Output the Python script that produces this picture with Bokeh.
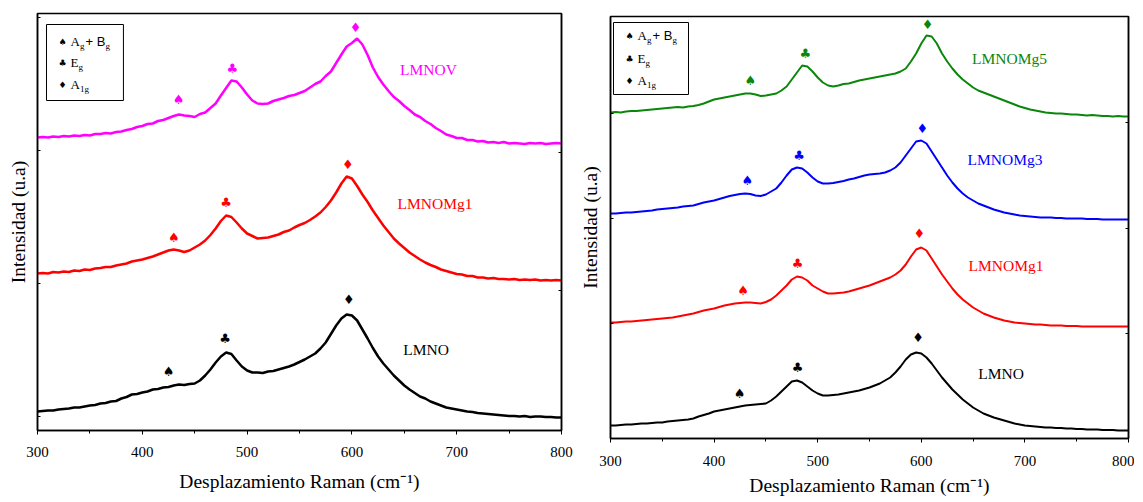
from jinja2 import Template
from bokeh.plotting import figure
from bokeh.models import Range1d, LinearAxis, FixedTicker, SingleIntervalTicker
from bokeh.embed import file_html
from bokeh.resources import INLINE
from bokeh.core.properties import value

# ---------------- data (intensity in arbitrary units, stacked as drawn) ----------------
RAMAN_SHIFT = list(range(300, 801, 5))  # cm^-1

# left panel
L_LMNOV = [293, 293.5, 293, 294, 293.5, 294.5, 294, 295, 294.5, 295.5,
           295, 296.5, 296.5, 297.5, 297, 298.5, 299, 300.5, 301.5, 303.5,
           304.5, 306.5, 307, 309.5, 310.5, 312.5, 314.5, 316, 315, 314.5,
           313.5, 316.5, 318, 322.5, 327, 335, 342.5, 350, 349, 343,
           336, 330, 327, 326.5, 327, 329.5, 331, 332.5, 334.5, 335.5,
           337.5, 339.5, 343, 346.5, 349, 354.5, 359, 367.5, 376, 384,
           387.5, 392, 386, 375.5, 363, 353.5, 346, 339.5, 333.5, 329.5,
           324.5, 320.5, 316, 313.5, 309.5, 306.5, 302.5, 299.5, 296, 294.5,
           292.5, 292.5, 290.5, 290.5, 289, 289.5, 288, 288.5, 287.5, 288.5,
           287, 287.5, 287, 286.5, 287.5, 287, 287.5, 286.5, 287, 287.5,
           287]
L_LMNOMG1 = [157, 157.5, 157, 158.5, 158, 159, 158.5, 160, 159.5, 161,
             160.5, 162, 162.5, 163.5, 163.5, 165, 166, 167, 169, 170,
             171, 172.5, 174, 176, 178, 180, 181, 180, 178.5, 180,
             183, 186, 190, 195.5, 202, 209.5, 215, 213.5, 208, 202,
             197, 194.5, 192, 192.5, 193, 194.5, 196, 198.5, 200, 203,
             205.5, 207.5, 210.5, 214, 218, 223.5, 230, 238, 247, 254,
             252, 244.5, 236, 228.5, 220, 212.5, 205, 198.5, 192, 187,
             182.5, 178, 174.5, 171, 168, 165.5, 163.5, 161, 159.5, 158,
             156.5, 156, 154.5, 154.5, 153, 153, 152, 152.5, 151.5, 151.5,
             151, 151.5, 150.5, 151, 150.5, 151, 150, 150.5, 150, 150.5,
             150]
L_LMNO = [19, 19.5, 20, 20, 21, 21.5, 22, 23, 23, 24,
          25, 25.5, 27, 27.5, 29, 29.5, 32, 33.5, 36, 36.5,
          38, 39, 41, 41.5, 43, 43.5, 45, 46, 45.5, 46.5,
          47, 50, 55, 61, 68, 74, 78, 76.5, 70, 64,
          60, 58, 58, 57.5, 59, 59.5, 61, 62.5, 64, 66,
          68.5, 71, 74, 77, 82, 88, 96.5, 105, 112, 116,
          115, 110, 101, 92, 82.5, 74, 67, 61, 55, 50,
          45, 41, 37.5, 34, 32, 29, 27, 25, 23, 22,
          21, 20, 19, 18.5, 17.5, 17, 16.5, 16, 15.5, 15,
          14.5, 14.5, 14, 14.5, 13.5, 14, 14, 13.5, 13.5, 13,
          13]

# right panel
R_LMNOMG5 = [326, 326.5, 326, 327, 327.5, 327.5, 328, 328.5, 329, 329.5,
             330, 330.5, 331, 331.5, 331, 332, 332.5, 333.5, 335, 337,
             339, 340, 341, 342, 343, 344, 345, 345, 344, 342.5,
             343, 344, 345, 348, 352, 359, 366, 373, 372, 367,
             361, 356, 353, 352, 353, 354.5, 355, 356.5, 358, 359,
             360, 361, 362, 363, 364, 365, 367, 370, 377, 385,
             395, 403, 402, 395, 385, 377, 370, 364, 359, 355,
             351, 348, 346, 344, 342, 340, 338, 336, 334, 332,
             330.5, 329, 328, 327, 326, 325.5, 325, 325, 324.5, 324,
             324, 323.5, 323, 323.5, 323, 322.5, 322.5, 322, 322.5, 322,
             322]
R_LMNOMG3 = [225, 225, 225.5, 226, 226, 226.5, 227, 227.5, 228, 229,
             229.5, 230, 230.5, 231, 232, 232.5, 233, 234.5, 236, 237,
             238, 239.5, 241, 242.5, 243.5, 244.5, 245, 244.5, 243, 242.5,
             244, 247, 250, 256, 263, 269, 271, 270, 266, 261,
             257, 255, 255, 255.5, 256.5, 257.5, 259, 260, 261.5, 263,
             264, 264.5, 265, 266, 268, 271, 276, 283, 290, 297,
             298, 295, 287, 279, 271, 263, 256, 250, 245, 241,
             238, 235, 233, 231, 229, 227.5, 226, 225, 224, 223,
             222.5, 222, 221.5, 221, 221, 221, 220.5, 220.5, 220, 220,
             220, 220, 219.5, 219.5, 219.5, 219, 219, 219, 219, 219,
             219]
R_LMNOMG1 = [116, 116, 116.5, 117, 117, 117.5, 118, 118.5, 119, 119.5,
             120, 120.5, 121, 122, 123, 124, 125, 126.5, 128, 129,
             130, 131.5, 133, 134, 135, 135.5, 136, 136, 135.5, 135,
             136.5, 139, 143, 148, 153, 159, 162, 161, 158, 153,
             150, 147, 145, 145, 145.5, 146, 147, 148.5, 150, 151.5,
             153, 155, 157, 159, 161, 164, 168, 174, 182, 189,
             191, 188, 180, 172, 164, 157, 150, 144, 139, 135,
             131, 128, 125, 123, 121, 119.5, 118, 117, 116, 115.5,
             115, 114.5, 114, 114, 113.5, 113, 113, 113, 112.5, 112.5,
             112.5, 112, 112, 112, 112, 112, 112, 112, 112, 112,
             112]
R_LMNO = [13, 13, 13.5, 14, 14, 14.5, 15, 15, 15.5, 16,
          16, 17, 17.5, 18, 18.5, 19, 20, 22, 23.5, 25,
          27, 28, 29, 30, 31, 32, 33, 33.5, 34, 34.5,
          35, 38, 42, 47, 52, 57, 58, 56, 52, 48,
          45, 43, 43, 43.5, 44, 45, 46, 47, 48, 49.5,
          51, 53, 55, 58, 61, 66, 72, 79, 84, 86,
          85, 81, 75, 68, 61, 55, 49, 44, 39, 35,
          31, 28, 25, 23, 21, 19.5, 18, 16.5, 15, 14,
          13, 12.5, 12, 11.5, 11, 11, 10.5, 10.5, 10, 10,
          9.5, 9.5, 9, 9, 9, 8.5, 8.5, 8.5, 8, 8,
          8]

for arr in (L_LMNOV, L_LMNOMG1, L_LMNO, R_LMNOMG5, R_LMNOMG3, R_LMNOMG1, R_LMNO):
    assert len(arr) == len(RAMAN_SHIFT)

MODE_SYMBOLS = ["\u2660", "\u2663", "\u2666"]  # A_g+B_g, E_g, A_1g
X_TITLE = "Desplazamiento Raman (cm\u207b\u00b9)"
Y_TITLE = "Intensidad (u.a)"

# annotations: (name, values, colour, mode-marker positions, label position)
LEFT_SERIES = [
    ("LMNOV", L_LMNOV, "#FF00FF", [(434.5, 331), (486, 362), (603.5, 403)], (646, 361)),
    ("LMNOMg1", L_LMNOMG1, "#FF0000", [(430, 193), (480, 228), (596, 266)], (643.5, 227)),
    ("LMNO", L_LMNO, "#000000", [(425, 59), (479, 92), (597, 131)], (649, 81)),
]
RIGHT_SERIES = [
    ("LMNOMg5", R_LMNOMG5, "#0A870A", [(435, 358), (488, 385), (606, 414)], (649, 380)),
    ("LMNOMg3", R_LMNOMG3, "#0000FF", [(432, 258), (482, 283), (601, 310)], (644.6, 279)),
    ("LMNOMg1", R_LMNOMG1, "#FF0000", [(428, 148), (480.5, 175), (598, 205)], (645.6, 173)),
    ("LMNO", R_LMNO, "#000000", [(424.5, 45), (480.5, 71), (597, 101)], (655, 65)),
]

SERIF = "Liberation Serif"
SANS = "Liberation Sans"
SYMF = "DejaVu Sans"


def make_panel(width, height, ymax, borders, yt_left, yt_right, label_standoff, title_standoff,
               ylab_standoff, series, lw, legend_box, legend_sym_x, legend_txt_x, legend_rows):
    bl, br, bt, bb = borders
    p = figure(width=width, height=height, x_range=Range1d(300, 800), y_range=Range1d(0, ymax),
               output_backend="svg", toolbar_location=None,
               min_border_left=bl, min_border_right=br, min_border_top=bt, min_border_bottom=bb)
    p.xgrid.visible = False
    p.ygrid.visible = False
    p.outline_line_color = "black"
    p.outline_line_width = 1.5
    p.outline_line_alpha = 1.0
    p.background_fill_color = "white"
    p.border_fill_color = "white"

    xa = p.xaxis[0]
    xa.ticker = SingleIntervalTicker(interval=100, num_minor_ticks=2)
    xa.axis_label = X_TITLE
    xa.axis_label_text_font = SERIF
    xa.axis_label_text_font_size = "19.5px"
    xa.axis_label_text_font_style = "normal"
    xa.axis_label_text_color = "black"
    xa.axis_label_standoff = title_standoff
    xa.major_label_text_font = SERIF
    xa.major_label_text_font_size = "15px"
    xa.major_label_text_color = "black"
    xa.major_label_standoff = label_standoff
    xa.axis_line_width = 1.5
    xa.axis_line_color = "black"
    xa.major_tick_out = 4
    xa.major_tick_in = 0
    xa.minor_tick_out = 3
    xa.minor_tick_in = 0
    xa.major_tick_line_color = "black"
    xa.minor_tick_line_color = "black"

    ya = p.yaxis[0]
    ya.ticker = FixedTicker(ticks=yt_left, minor_ticks=[])
    ya.major_label_overrides = {t: "" for t in yt_left}
    ya.axis_label = Y_TITLE
    ya.axis_label_text_font = SERIF
    ya.axis_label_text_font_size = "19.5px"
    ya.axis_label_text_font_style = "normal"
    ya.axis_label_text_color = "black"
    ya.axis_label_standoff = ylab_standoff
    ya.major_label_standoff = 0
    ya.axis_line_width = 1.5
    ya.axis_line_color = "black"
    ya.major_tick_in = 3
    ya.major_tick_out = 0
    ya.minor_tick_in = 0
    ya.minor_tick_out = 0

    ra = LinearAxis(ticker=FixedTicker(ticks=yt_right, minor_ticks=[]),
                    major_label_overrides={t: "" for t in yt_right},
                    major_tick_in=3, major_tick_out=0, minor_tick_in=0, minor_tick_out=0,
                    major_label_standoff=0, axis_line_width=1.5, axis_line_color="black")
    p.add_layout(ra, "right")

    for name, vals, col, marks, lab in series:
        p.line(RAMAN_SHIFT, vals, line_color=col, line_width=lw)
        p.text(x=[m[0] for m in marks], y=[m[1] for m in marks], text=MODE_SYMBOLS,
               text_color=col, text_font=value(SYMF), text_font_size=value("13px"),
               text_align="center", text_baseline="middle")
        p.text(x=[lab[0]], y=[lab[1]], text=[name], text_color=col,
               text_font=value(SERIF), text_font_size=value("15.5px"),
               text_align="left", text_baseline="middle")

    # legend box of the vibrational modes
    l, r, b, t = legend_box
    p.quad(left=[l], right=[r], bottom=[b], top=[t], fill_color=None,
           line_color="black", line_width=1)
    n = len(legend_rows)
    p.text(x=[legend_sym_x] * n, y=legend_rows, text=MODE_SYMBOLS, text_color="black",
           text_font=value(SYMF), text_font_size=value("9px"),
           text_align="center", text_baseline="middle")
    p.text(x=[legend_txt_x] * n, y=legend_rows, text=["A", "E", "A"], text_color="black",
           text_font=value(SERIF), text_font_size=value("13px"),
           text_align="left", text_baseline="middle")
    p.text(x=[legend_txt_x] * n, y=legend_rows, text=["g", "g", "1g"], text_color="black",
           x_offset=[9.5, 8, 9.5], y_offset=4,
           text_font=value(SERIF), text_font_size=value("9px"),
           text_align="left", text_baseline="middle")
    p.text(x=[legend_txt_x], y=[legend_rows[0]], text=["+ B"], text_color="black",
           x_offset=15, text_font=value(SANS), text_font_size=value("13px"),
           text_align="left", text_baseline="middle")
    p.text(x=[legend_txt_x], y=[legend_rows[0]], text=["g"], text_color="black",
           x_offset=35, y_offset=4, text_font=value(SERIF), text_font_size=value("9px"),
           text_align="left", text_baseline="middle")
    return p


left = make_panel(575, 502, 417, (37, 14, 13, 72), [14, 147, 280, 413], [140, 278],
                  12, 11, 9, LEFT_SERIES, 2.5,
                  (308.6, 382, 330, 406), 323.9, 331.5, [389, 368, 346])
right = make_panel(559, 502, 422, (35, 6, 16, 64), [115, 220, 325], [105, 210, 316],
                   13, 6, 10, RIGHT_SERIES, 2.0,
                   (302.9, 375.3, 344, 416), 318.3, 326, [403, 380, 358])

# the two panels side by side, each keeping its own frame position (no frame alignment)
PAGE = Template(
    "{% extends base %}"
    "{% block postamble %}<style>body { display: flex; flex-direction: row; "
    "align-items: flex-start; overflow: hidden; }</style>{% endblock %}"
)

open("out.html", "w").write(file_html([left, right], INLINE, template=PAGE))
